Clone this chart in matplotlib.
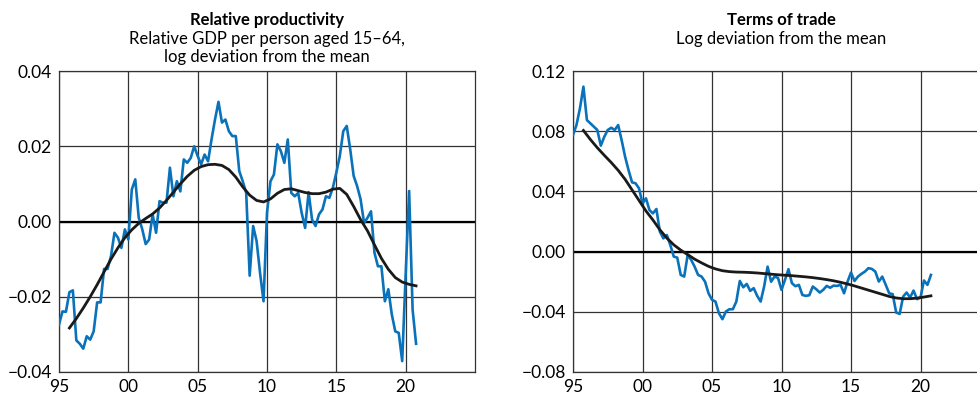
import numpy as np
import matplotlib
matplotlib.use("Agg")
from matplotlib import pyplot as plt

plt.rcParams['font.family'] = ['Lato', 'DejaVu Sans']

# quarterly, 1995Q1 .. 2020Q4
quarters = 1995 + np.arange(104) / 4.0

prod = [-0.0274, -0.0239, -0.0240, -0.0188, -0.0183, -0.0316, -0.0325, -0.0338,
        -0.0305, -0.0314, -0.0292, -0.0215, -0.0215, -0.0126, -0.0126, -0.0092,
        -0.0030, -0.0043, -0.0070, -0.0021, -0.0048, 0.0085, 0.0112, 0.0010,
        -0.0020, -0.0060, -0.0048, 0.0019, -0.0030, 0.0054, 0.0050, 0.0050,
        0.0143, 0.0067, 0.0107, 0.0080, 0.0165, 0.0156, 0.0169, 0.0200,
        0.0174, 0.0152, 0.0178, 0.0160, 0.0218, 0.0271, 0.0318, 0.0263,
        0.0271, 0.0240, 0.0227, 0.0227, 0.0134, 0.0107, 0.0076, -0.0144,
        -0.0012, -0.0052, -0.0137, -0.0212, 0.0023, 0.0107, 0.0125, 0.0205,
        0.0187, 0.0156, 0.0218, 0.0076, 0.0067, 0.0076, 0.0023, -0.0017,
        0.0078, 0.0005, -0.0012, 0.0019, 0.0032, 0.0067, 0.0063, 0.0090,
        0.0130, 0.0174, 0.0240, 0.0254, 0.0192, 0.0121, 0.0094, 0.0059,
        -0.0004, 0.0010, 0.0027, -0.0083, -0.0119, -0.0119, -0.0212, -0.0180,
        -0.0247, -0.0292, -0.0296, -0.0371, -0.0140, 0.0081, -0.0234, -0.0325]

tot = [0.0775, 0.0841, 0.0952, 0.1096, 0.0874, 0.0852, 0.0830, 0.0808,
       0.0704, 0.0763, 0.0808, 0.0823, 0.0808, 0.0841, 0.0740, 0.0630,
       0.0540, 0.0460, 0.0454, 0.0420, 0.0320, 0.0354, 0.0276, 0.0254,
       0.0283, 0.0132, 0.0088, 0.0110, 0.0044, -0.0033, -0.0040, -0.0155,
       -0.0166, -0.0022, -0.0055, -0.0100, -0.0155, -0.0166, -0.0200, -0.0277,
       -0.0320, -0.0332, -0.0410, -0.0449, -0.0398, -0.0383, -0.0383, -0.0332,
       -0.0195, -0.0237, -0.0215, -0.0261, -0.0243, -0.0294, -0.0332, -0.0232,
       -0.0100, -0.0200, -0.0166, -0.0175, -0.0254, -0.0188, -0.0117, -0.0210,
       -0.0230, -0.0221, -0.0288, -0.0294, -0.0290, -0.0232, -0.0250, -0.0272,
       -0.0254, -0.0228, -0.0240, -0.0226, -0.0228, -0.0221, -0.0277, -0.0200,
       -0.0139, -0.0195, -0.0166, -0.0148, -0.0133, -0.0110, -0.0115, -0.0133,
       -0.0199, -0.0166, -0.0221, -0.0277, -0.0283, -0.0405, -0.0414, -0.0299,
       -0.0272, -0.0305, -0.0259, -0.0316, -0.0305, -0.0192, -0.0221, -0.0155]

# trends, half-yearly from 1995Q4 to 2020Q4
half_years = 1995.75 + np.arange(51) / 2.0

prod_trend = [-0.0283, -0.0258, -0.0230, -0.0200, -0.0168, -0.0134, -0.0100, -0.0070,
              -0.0043, -0.0022, -0.0005, 0.0008, 0.0020, 0.0036, 0.0056, 0.0078,
              0.0100, 0.0120, 0.0136, 0.0146, 0.0151, 0.0152, 0.0149, 0.0138,
              0.0118, 0.0092, 0.0070, 0.0056, 0.0052, 0.0060, 0.0075, 0.0085,
              0.0087, 0.0082, 0.0077, 0.0074, 0.0074, 0.0078, 0.0086, 0.0088,
              0.0072, 0.0040, 0.0005, -0.0025, -0.0062, -0.0098, -0.0127, -0.0149,
              -0.0161, -0.0167, -0.0171]

tot_trend = [0.0805, 0.0745, 0.0690, 0.0640, 0.0592, 0.0540, 0.0480, 0.0410,
             0.0340, 0.0270, 0.0210, 0.0145, 0.0090, 0.0045, 0.0010, -0.0020,
             -0.0050, -0.0075, -0.0098, -0.0115, -0.0127, -0.0133, -0.0136, -0.0137,
             -0.0139, -0.0142, -0.0146, -0.0150, -0.0154, -0.0157, -0.0160, -0.0164,
             -0.0168, -0.0173, -0.0179, -0.0186, -0.0194, -0.0204, -0.0215, -0.0228,
             -0.0242, -0.0256, -0.0270, -0.0284, -0.0298, -0.0308, -0.0313, -0.0313,
             -0.0309, -0.0302, -0.0294]

year_ticks = [1995, 2000, 2005, 2010, 2015, 2020]
year_labels = ['95', '00', '05', '10', '15', '20']

prod_ticks = [-0.04, -0.02, 0.00, 0.02, 0.04]
tot_ticks = [-0.08, -0.04, 0.00, 0.04, 0.08, 0.12]

blue = '#0a72ba'
W, H = 978, 396
fig = plt.figure(figsize=(W / 100, H / 100), dpi=100)

ax1 = fig.add_axes([59 / W, 1 - 372 / H, 416 / W, 301 / H])
ax2 = fig.add_axes([573 / W, 1 - 372 / H, 417 / W, 301 / H])


def style_panel(ax, yticks):
    ax.set_xlim(1995, 2025)
    ax.set_ylim(yticks[0], yticks[-1])
    ax.set_xticks(year_ticks)
    ax.set_xticklabels(year_labels)
    ax.set_yticks(yticks)
    ax.set_yticklabels(['%.2f' % t if t >= 0 else '\u2212%.2f' % -t for t in yticks])
    ax.tick_params(length=0, labelsize=12.5, pad=5)
    ax.grid(True, color='#333333', lw=0.9)
    ax.set_axisbelow(True)
    for s in ax.spines.values():
        s.set_color('#333333')
        s.set_linewidth(0.9)
    ax.axhline(0, color='black', lw=1.6, zorder=1.5)


style_panel(ax1, prod_ticks)
style_panel(ax2, tot_ticks)

ax1.plot(quarters, prod, color=blue, lw=1.9, zorder=3)
ax1.plot(half_years, prod_trend, color='#1a1a1a', lw=2.0, zorder=4)
ax2.plot(quarters, tot, color=blue, lw=1.9, zorder=3)
ax2.plot(half_years, tot_trend, color='#1a1a1a', lw=2.0, zorder=4)

# titles
fig.text(267 / W, 1 - 20 / H, 'Relative productivity', ha='center', va='center',
         fontsize=12, fontweight='bold')
fig.text(267 / W, 1 - 39 / H, 'Relative GDP per person aged 15\u201364,', ha='center',
         va='center', fontsize=12)
fig.text(267 / W, 1 - 57 / H, 'log deviation from the mean', ha='center', va='center',
         fontsize=12)
fig.text(781 / W, 1 - 20 / H, 'Terms of trade', ha='center', va='center',
         fontsize=12, fontweight='bold')
fig.text(781 / W, 1 - 39 / H, 'Log deviation from the mean', ha='center', va='center',
         fontsize=12)

fig.savefig('out.png', dpi=100)
